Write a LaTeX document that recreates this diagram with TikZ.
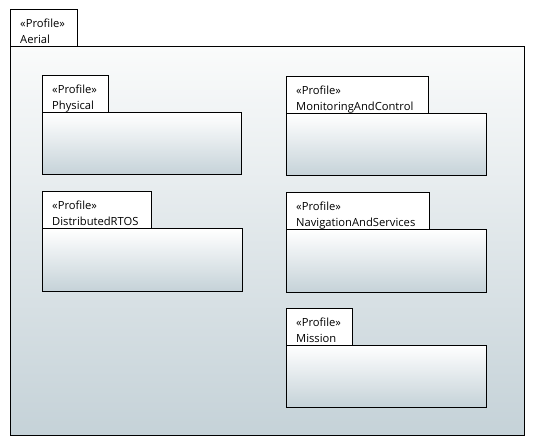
\documentclass[tikz,border=0pt]{standalone}
\usepackage{fontspec}
\setmainfont{Open Sans}
\definecolor{gbot}{RGB}{197,210,216}
\definecolor{gtop}{RGB}{250,251,251}
\tikzset{
  tabbox/.style={draw=black, fill=white, line width=1pt},
  pkgbody/.style={draw=black, line width=1pt, top color=white, bottom color=gbot},
  outerbody/.style={draw=black, line width=1pt, top color=gtop, bottom color=gbot},
  lbl/.style={anchor=base west, inner sep=0pt, font=\fontsize{11.2}{13}\selectfont}
}
\newcommand{\umlpkg}[7]{% name, x, y(tab top), tab width, tab height, body width, body height
  \draw[tabbox] (#2,#3) rectangle ++(#4,#5);
  \draw[pkgbody] (#2,#3+#5) rectangle ++(#6,#7);
  \node[lbl] (#1-st) at (#2+10,#3+18) {«Profile»};
}
\begin{document}
\begin{tikzpicture}[x=1pt,y=-1pt]
\useasboundingbox (0,0) rectangle (535,446);
% outer package
\draw[tabbox] (10,10) rectangle (77,47);
\draw[outerbody] (10,47) rectangle (524,435);
\node[lbl] (aerial-st) at (20,28) {«Profile»};
\node[lbl] (aerial) at (20,44) {Aerial};
% Physical
\umlpkg{phys}{42}{76}{66}{37}{199}{62}
\node[lbl] (phys) at (52,110) {Physical};
% DistributedRTOS
\umlpkg{rtos}{42}{192}{109}{37}{200}{62}
\node[lbl] (rtos) at (52,226) {DistributedRTOS};
% MonitoringAndControl
\umlpkg{mon}{286}{77}{142}{37}{200}{62}
\node[lbl] (mon) at (296,111) {MonitoringAndControl};
% NavigationAndServices
\umlpkg{nav}{286}{193}{143}{37}{200}{62}
\node[lbl] (nav) at (296,227) {NavigationAndServices};
% Mission
\umlpkg{mis}{286}{308}{66}{37}{200}{62}
\node[lbl] (mis) at (296,342) {Mission};
\end{tikzpicture}
\end{document}
